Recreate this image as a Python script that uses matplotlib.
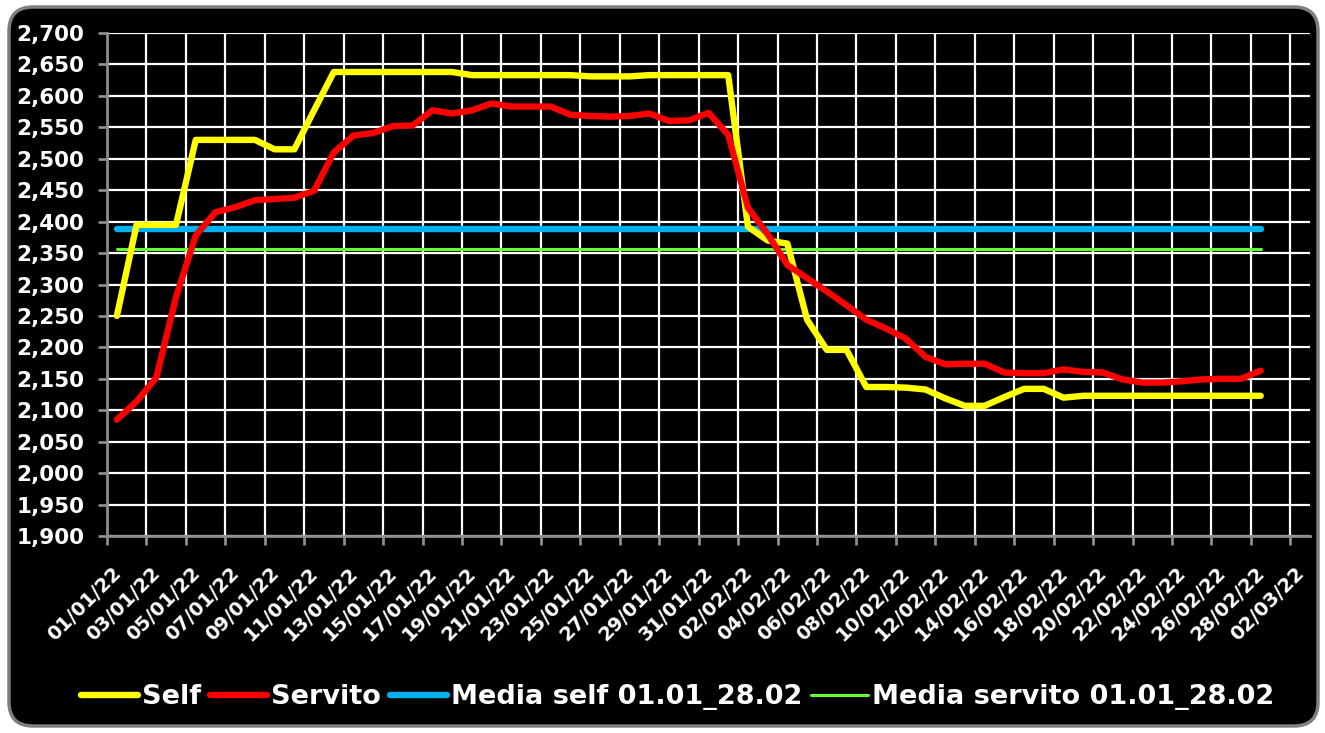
import numpy as np
import pandas as pd
import matplotlib
matplotlib.use("Agg")
import matplotlib.pyplot as plt
import matplotlib.dates as mdates
from matplotlib.patches import FancyBboxPatch
from matplotlib.ticker import MultipleLocator, FuncFormatter
from matplotlib.transforms import ScaledTranslation, IdentityTransform

# Data (prezzi giornalieri 01/01/22 - 28/02/22)
dates = pd.date_range("2022-01-01", "2022-02-28", freq="D")

self_price = [2.250, 2.395, 2.395, 2.395, 2.530, 2.530, 2.530, 2.530, 2.515, 2.515,
              2.577, 2.638, 2.638, 2.638, 2.638, 2.638, 2.638, 2.638, 2.633, 2.633,
              2.633, 2.633, 2.633, 2.633, 2.631, 2.631, 2.631, 2.633, 2.633, 2.633,
              2.633, 2.633, 2.392, 2.370, 2.365, 2.244, 2.196, 2.196, 2.137, 2.137,
              2.136, 2.133, 2.119, 2.107, 2.107, 2.121, 2.134, 2.134, 2.120, 2.123,
              2.123, 2.123, 2.123, 2.123, 2.123, 2.123, 2.123, 2.123, 2.123]

servito_price = [2.085, 2.114, 2.152, 2.280, 2.378, 2.415, 2.423, 2.434, 2.436, 2.438,
                 2.449, 2.510, 2.537, 2.541, 2.552, 2.553, 2.577, 2.572, 2.577, 2.588,
                 2.583, 2.583, 2.583, 2.570, 2.568, 2.567, 2.568, 2.572, 2.560, 2.561,
                 2.573, 2.538, 2.422, 2.380, 2.331, 2.310, 2.289, 2.267, 2.244, 2.230,
                 2.214, 2.185, 2.173, 2.174, 2.174, 2.160, 2.159, 2.159, 2.165, 2.161,
                 2.160, 2.149, 2.144, 2.144, 2.146, 2.149, 2.150, 2.150, 2.163]

media_self = 2.388
media_servito = 2.357

labels = ["Self", "Servito", "Media self 01.01_28.02", "Media servito 01.01_28.02"]

# Figure
fig = plt.figure(figsize=(13.25, 7.33), dpi=100, facecolor="white")

W, H = 1325, 733
# black rounded background, in pixels
bg = FancyBboxPatch((9, 7), 1309, 719,
                    boxstyle="round,pad=0,rounding_size=24",
                    transform=IdentityTransform(), facecolor="black",
                    edgecolor="#7f7f7f", linewidth=2.5, zorder=-10)
fig.patches.append(bg)

ax = fig.add_axes([107 / W, 1 - 536 / H, 1203 / W, 503 / H])
ax.set_facecolor("black")

x = dates + pd.Timedelta(hours=12)

ax.plot(x, self_price, color="#FFFF00", lw=4.6, solid_capstyle="round",
        solid_joinstyle="round", label=labels[0], zorder=4)
ax.plot(x, servito_price, color="#FF0000", lw=4.6, solid_capstyle="round",
        solid_joinstyle="round", label=labels[1], zorder=4)
ax.plot(x, [media_self] * len(dates), color="#00B0F0", lw=4.6,
        solid_capstyle="round", label=labels[2], zorder=3)
ax.plot(x, [media_servito] * len(dates), color="#66FF33", lw=2.2,
        solid_capstyle="round", label=labels[3], zorder=3)

# Axes
ax.set_ylim(1.9, 2.7)
ax.set_xlim(pd.Timestamp("2022-01-01"), pd.Timestamp("2022-03-03"))
ax.yaxis.set_major_locator(MultipleLocator(0.05))
ax.yaxis.set_major_formatter(FuncFormatter(lambda v, p: f"{v:.3f}".replace(".", ",")))

xticks = pd.date_range("2022-01-01", "2022-03-02", freq="2D")
ax.set_xticks(xticks)
ax.xaxis.set_major_formatter(mdates.DateFormatter("%d/%m/%y"))

ax.grid(True, color="white", lw=1.6)
ax.set_axisbelow(True)

for s in ["top", "right"]:
    ax.spines[s].set_visible(False)
for s in ["left", "bottom"]:
    ax.spines[s].set_color("#8c8c8c")
    ax.spines[s].set_linewidth(2)

ax.tick_params(axis="both", colors="#8c8c8c", length=6.5, width=2)
ax.tick_params(axis="y", labelcolor="white", labelsize=15.5, pad=10)
ax.tick_params(axis="x", labelcolor="white", labelsize=14, pad=18)

for lab in ax.get_yticklabels():
    lab.set_fontweight("bold")

offset = ScaledTranslation(8 / 72, 0, fig.dpi_scale_trans)
for lab in ax.get_xticklabels():
    lab.set_fontweight("bold")
    lab.set_rotation(45)
    lab.set_ha("right")
    lab.set_va("center")
    lab.set_rotation_mode("anchor")
    lab.set_transform(lab.get_transform() + offset)

leg = fig.legend(loc="center", bbox_to_anchor=(678 / W, 1 - 697 / H), ncol=4,
                 frameon=False, handlelength=2.1, handletextpad=0.15,
                 columnspacing=0.33, borderaxespad=0,
                 prop={"weight": "bold", "size": 19.5})
for t in leg.get_texts():
    t.set_color("white")

fig.savefig("out.png", dpi=100, facecolor="white")
